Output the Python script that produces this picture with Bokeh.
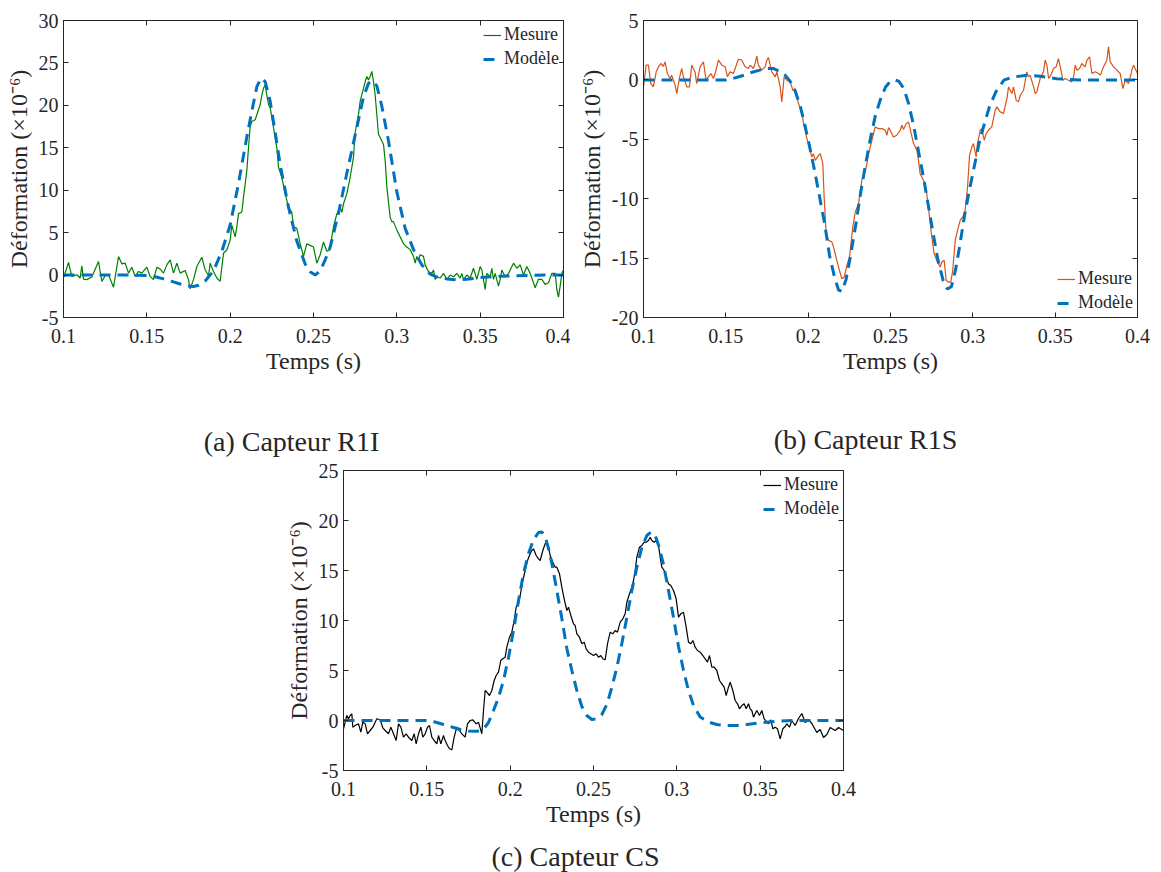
from bokeh.plotting import figure
from bokeh.models import (Range1d, FixedTicker, LinearAxis, Legend, LegendItem,
                          Spacer, NumeralTickFormatter)
from bokeh.core.properties import value
from bokeh.layouts import row, column
from bokeh.embed import file_html
from bokeh.resources import INLINE

# ---------------- data ----------------
x_ticks = [0.1, 0.15, 0.2, 0.25, 0.3, 0.35, 0.4]
y_ticks_a = [-5, 0, 5, 10, 15, 20, 25, 30]
y_ticks_b = [-20, -15, -10, -5, 0, 5]
y_ticks_c = [-5, 0, 5, 10, 15, 20, 25]

captions = ["(a) Capteur R1I", "(b) Capteur R1S", "(c) Capteur CS"]
x_label = "Temps (s)"
y_label = "Déformation (×10⁻⁶)"
series_names = ["Mesure", "Modèle"]

# (a) Capteur R1I
meas_a_t = [0.100, 0.103, 0.105, 0.108, 0.110, 0.111, 0.112, 0.114, 0.117, 0.121, 0.123, 0.125,
            0.127, 0.130, 0.133, 0.135, 0.137, 0.139, 0.141, 0.143, 0.145, 0.147, 0.150, 0.152,
            0.154, 0.156, 0.158, 0.160, 0.162, 0.164, 0.166, 0.168, 0.170, 0.173, 0.175, 0.176,
            0.178, 0.180, 0.183, 0.185, 0.187, 0.188, 0.190, 0.192, 0.194, 0.196, 0.198, 0.200,
            0.201, 0.203, 0.204, 0.205, 0.207, 0.208, 0.209, 0.210, 0.211, 0.212, 0.213, 0.215,
            0.216, 0.218, 0.219, 0.220, 0.221, 0.222, 0.223, 0.224, 0.226, 0.228, 0.229, 0.231,
            0.233, 0.235, 0.237, 0.238, 0.240, 0.242, 0.244, 0.246, 0.248, 0.250, 0.252, 0.254,
            0.256, 0.258, 0.260, 0.261, 0.262, 0.264, 0.266, 0.267, 0.268, 0.270, 0.272, 0.274,
            0.275, 0.276, 0.277, 0.278, 0.280, 0.281, 0.282, 0.283, 0.284, 0.285, 0.286, 0.287,
            0.288, 0.289, 0.290, 0.292, 0.293, 0.294, 0.296, 0.297, 0.298, 0.300, 0.302, 0.304,
            0.306, 0.308, 0.310, 0.311, 0.312, 0.313, 0.314, 0.316, 0.317, 0.319, 0.321, 0.322,
            0.323, 0.324, 0.326, 0.328, 0.330, 0.332, 0.334, 0.336, 0.338, 0.339, 0.340, 0.342,
            0.344, 0.346, 0.348, 0.350, 0.351, 0.353, 0.354, 0.356, 0.357, 0.358, 0.359, 0.361,
            0.362, 0.363, 0.365, 0.367, 0.368, 0.370, 0.372, 0.374, 0.376, 0.378, 0.380, 0.382,
            0.383, 0.385, 0.387, 0.389, 0.391, 0.393, 0.395, 0.396, 0.397, 0.398, 0.399, 0.400]
meas_a_y = [-0.35, 1.48, -0.16, 0.04, -0.35, 1.09, -0.47, -0.54, -0.23, 1.6, -0.74, -0.08,
            0.04, -1.44, 2.18, 1.32, 1.4, 0.23, 0.93, -0.16, 0.43, 0.23, 0.93, -0.16,
            -0.54, 0.93, 0.7, 0.23, 1.2, 1.79, 0.23, 1.4, 0.23, 0.54, -0.54, -1.63,
            -0.54, 1.01, 2.1, 0.62, -0.08, 1.4, 0.43, -0.35, -0.74, 2.57, 2.96, 4.12,
            5.88, 4.51, 5.68, 7.24, 7.43, 9.18, 10.7, 12.3, 15.0, 17.5, 18.1, 18.3,
            18.9, 20.1, 21.2, 22.0, 22.4, 21.2, 20.1, 19.7, 17.4, 15.0, 12.7, 11.5,
            9.6, 8.0, 7.4, 5.7, 5.5, 3.7, 2.2, 3.7, 3.5, 3.3, 1.4, 2.4,
            3.9, 2.8, 3.0, 4.5, 5.7, 7.2, 8.0, 7.4, 8.4, 9.6, 11.5, 13.9,
            16.8, 17.9, 18.9, 20.5, 22.0, 22.8, 23.4, 23.0, 23.4, 24.0, 22.8, 21.2,
            18.9, 16.6, 16.2, 15.4, 13.5, 10.4, 6.8, 6.3, 6.3, 5.3, 4.5, 3.7,
            3.3, 3.0, 2.2, 1.4, 2.2, 1.8, 2.4, 2.2, 1.2, 0.4, 0.2, 0.6,
            -0.5, -0.2, -0.35, 0.2, -0.5, 0.0, -0.2, 0.2, -0.35, 0.2, -0.5, 0.0,
            -0.35, 0.8, -0.5, 1.0, 0.6, -1.7, 0.2, -0.2, 0.8, -0.5, 0.2, -1.3,
            -0.5, 0.6, -0.2, 0.2, 0.6, 1.4, 0.8, 1.2, 0.0, 1.0, 0.2, -0.9,
            -1.5, -0.5, -0.5, -1.1, -0.9, 0.2, 0.2, -1.7, -2.6, -1.3, 0.2, 0.6]
model_a_t = [0.100, 0.120, 0.140, 0.150, 0.155, 0.160, 0.165, 0.170, 0.175, 0.178, 0.181, 0.185,
             0.190, 0.195, 0.200, 0.205, 0.210, 0.213, 0.216, 0.2185, 0.221, 0.224, 0.227, 0.230,
             0.235, 0.240, 0.245, 0.248, 0.251, 0.254, 0.257, 0.260, 0.265, 0.270, 0.275, 0.280,
             0.283, 0.2855, 0.288, 0.291, 0.295, 0.300, 0.305, 0.310, 0.315, 0.320, 0.325, 0.330,
             0.336, 0.342, 0.350, 0.360, 0.370, 0.380, 0.390, 0.400]
model_a_y = [0.0, 0.0, 0.0, -0.05, -0.2, -0.45, -0.75, -1.05, -1.3, -1.35, -1.2, -0.7,
             0.5, 2.8, 5.9, 10.8, 16.3, 19.3, 22.2, 23.2, 22.8, 20.5, 16.8, 13.0,
             8.0, 4.0, 1.3, 0.4, 0.0, 0.5, 1.8, 3.3, 7.3, 12.0, 16.5, 21.0,
             22.6, 22.9, 22.3, 19.9, 15.8, 9.8, 5.5, 3.0, 1.2, 0.1, -0.3, -0.45,
             -0.55, -0.5, -0.3, -0.15, -0.08, -0.03, 0.0, 0.0]

# (b) Capteur R1S
meas_b_t = [0.1000, 0.1016, 0.1030, 0.1044, 0.1060, 0.1077, 0.1091, 0.1105, 0.1121, 0.1131,
            0.1145, 0.1162, 0.1171, 0.1192, 0.1202, 0.1218, 0.1232, 0.1242, 0.1263, 0.1279,
            0.1293, 0.1313, 0.1323, 0.1344, 0.1364, 0.1380, 0.1394, 0.1409, 0.1425, 0.1435,
            0.1455, 0.1476, 0.1496, 0.1510, 0.1526, 0.1546, 0.1567, 0.1577, 0.1597, 0.1617,
            0.1637, 0.1648, 0.1668, 0.1678, 0.1688, 0.1698, 0.1718, 0.1739, 0.1749, 0.1759,
            0.1779, 0.1800, 0.1810, 0.1830, 0.1840, 0.1854, 0.1870, 0.1891, 0.1907, 0.1921,
            0.1941, 0.1962, 0.1972, 0.1982, 0.1992, 0.2002, 0.2012, 0.2022, 0.2032, 0.2043,
            0.2063, 0.2073, 0.2089, 0.2097, 0.2109, 0.2124, 0.2144, 0.2154, 0.2174, 0.2190,
            0.2205, 0.2219, 0.2235, 0.2251, 0.2271, 0.2286, 0.2306, 0.2326, 0.2353, 0.2367,
            0.2387, 0.2407, 0.2427, 0.2448, 0.2468, 0.2478, 0.2488, 0.2498, 0.2518, 0.2538,
            0.2559, 0.2569, 0.2579, 0.2595, 0.2609, 0.2619, 0.2640, 0.2660, 0.2670, 0.2680,
            0.2690, 0.2710, 0.2720, 0.2737, 0.2751, 0.2765, 0.2781, 0.2802, 0.2812, 0.2826,
            0.2838, 0.2852, 0.2866, 0.2878, 0.2893, 0.2907, 0.2923, 0.2939, 0.2953, 0.2968,
            0.2980, 0.2994, 0.3004, 0.3020, 0.3028, 0.3045, 0.3055, 0.3069, 0.3081, 0.3095,
            0.3115, 0.3136, 0.3146, 0.3166, 0.3186, 0.3207, 0.3217, 0.3237, 0.3247, 0.3263,
            0.3277, 0.3288, 0.3308, 0.3328, 0.3338, 0.3348, 0.3369, 0.3379, 0.3389, 0.3409,
            0.3429, 0.3439, 0.3450, 0.3460, 0.3474, 0.3490, 0.3506, 0.3520, 0.3531, 0.3547,
            0.3561, 0.3581, 0.3601, 0.3612, 0.3622, 0.3632, 0.3648, 0.3662, 0.3682, 0.3693,
            0.3709, 0.3723, 0.3743, 0.3763, 0.3774, 0.3794, 0.3814, 0.3824, 0.3834, 0.3855,
            0.3875, 0.3895, 0.3911, 0.3925, 0.3946, 0.3966, 0.3976, 0.4000]
meas_b_y = [-0.59, 1.24, 1.24, -0.31, -0.59, 0.68, 1.10, 1.38, 1.15, 1.52,
            0.54, 0.12, 0.40, -0.45, -1.15, 0.12, 0.96, 0.26, -0.59, -0.59,
            1.24, 0.68, -0.31, 1.10, 1.52, -0.03, 0.26, 0.54, 0.12, 0.54,
            1.66, 1.24, 1.10, 0.26, 0.68, 0.54, 1.38, 1.74, 1.66, 1.10,
            0.96, 1.24, 0.96, 1.38, 2.0, 1.24, 0.82, 1.10, 1.66, 1.88,
            0.68, 0.26, 0.68, -0.59, -1.85, 0.26, -0.03, -0.17, -0.87, -0.73,
            -1.99, -2.69, -3.68, -4.24, -4.94, -5.36, -5.92, -6.49, -6.21, -6.77,
            -6.35, -6.21, -7.05, -9.86, -12.95, -13.51, -13.65, -14.07, -15.19, -16.04,
            -16.74, -16.60, -15.62, -14.91, -12.39, -11.12, -10.42, -8.45, -7.33, -6.21,
            -5.08, -3.96, -4.10, -4.10, -4.24, -4.66, -4.01, -4.24, -4.80, -4.66,
            -4.24, -3.82, -4.18, -3.68, -3.54, -4.10, -5.36, -5.92, -6.77, -7.89,
            -8.17, -8.73, -9.58, -11.54, -13.23, -14.63, -15.19, -15.75, -15.33, -15.19,
            -16.88, -17.02, -17.02, -16.04, -13.51, -12.67, -11.82, -11.54, -10.98, -9.01,
            -6.35, -5.64, -5.36, -6.49, -5.36, -4.24, -4.10, -5.08, -4.52, -4.24,
            -3.96, -2.55, -2.27, -2.69, -2.83, -1.57, -0.59, -1.15, -0.59, -1.71,
            -1.85, -1.29, -0.87, 0.68, 0.26, 0.40, -0.59, -1.15, -1.01, 0.12,
            0.68, 1.66, 1.24, 0.12, 0.40, 0.96, 1.10, 1.80, 1.10, -0.03,
            0.12, -0.03, -0.17, 0.26, 1.24, 0.82, 0.96, 1.38, 1.10, 1.66,
            1.94, 0.54, 0.68, 0.54, 0.40, 1.10, 1.66, 2.78, 1.52, 1.10,
            0.82, 0.54, -0.73, -0.03, -0.31, 0.82, 1.24, 0.54]
model_b_t = [0.100, 0.150, 0.155, 0.160, 0.165, 0.170, 0.175, 0.179, 0.183, 0.186, 0.189, 0.192,
             0.195, 0.198, 0.201, 0.204, 0.207, 0.210, 0.213, 0.216, 0.2185, 0.2205, 0.223, 0.226,
             0.229, 0.232, 0.235, 0.238, 0.241, 0.244, 0.247, 0.250, 0.2525, 0.255, 0.258, 0.261,
             0.264, 0.267, 0.270, 0.273, 0.276, 0.279, 0.282, 0.2845, 0.287, 0.2895, 0.292, 0.295,
             0.298, 0.301, 0.304, 0.307, 0.310, 0.314, 0.319, 0.325, 0.333, 0.341, 0.351, 0.365,
             0.400]
model_b_y = [0.0, 0.0, 0.15, 0.35, 0.6, 0.8, 0.95, 0.95, 0.7, 0.4, -0.1, -0.9,
             -2.1, -3.8, -5.7, -7.7, -9.9, -12.1, -14.8, -16.6, -17.7, -17.8, -16.8, -14.6,
             -12.1, -9.4, -7.0, -4.8, -2.9, -1.6, -0.6, -0.1, 0.0, -0.1, -0.7, -2.0,
             -3.8, -6.0, -8.2, -10.6, -13.0, -15.3, -16.9, -17.6, -17.4, -16.0, -14.0, -11.4,
             -9.2, -7.2, -5.2, -3.7, -2.3, -1.0, 0.0, 0.25, 0.4, 0.3, 0.1, 0.0,
             0.0]

# (c) Capteur CS
meas_c_t = [0.1000, 0.1010, 0.1020, 0.1030, 0.1040, 0.1050, 0.1056, 0.1070, 0.1090, 0.1104,
            0.1116, 0.1130, 0.1144, 0.1160, 0.1176, 0.1200, 0.1220, 0.1236, 0.1250, 0.1270,
            0.1284, 0.1300, 0.1316, 0.1330, 0.1344, 0.1360, 0.1376, 0.1390, 0.1410, 0.1424,
            0.1436, 0.1450, 0.1464, 0.1476, 0.1490, 0.1504, 0.1516, 0.1530, 0.1544, 0.1560,
            0.1570, 0.1584, 0.1600, 0.1610, 0.1624, 0.1636, 0.1650, 0.1664, 0.1680, 0.1696,
            0.1710, 0.1730, 0.1744, 0.1760, 0.1776, 0.1796, 0.1810, 0.1830, 0.1840, 0.1850,
            0.1860, 0.1876, 0.1890, 0.1904, 0.1916, 0.1930, 0.1944, 0.1956, 0.1970, 0.1980,
            0.1996, 0.2010, 0.2024, 0.2036, 0.2050, 0.2060, 0.2076, 0.2090, 0.2104, 0.2120,
            0.2130, 0.2140, 0.2156, 0.2170, 0.2180, 0.2196, 0.2210, 0.2220, 0.2230, 0.2240,
            0.2256, 0.2270, 0.2280, 0.2296, 0.2310, 0.2324, 0.2340, 0.2350, 0.2364, 0.2380,
            0.2390, 0.2400, 0.2416, 0.2430, 0.2444, 0.2456, 0.2470, 0.2484, 0.2500, 0.2516,
            0.2530, 0.2544, 0.2556, 0.2570, 0.2584, 0.2600, 0.2616, 0.2630, 0.2644, 0.2660,
            0.2676, 0.2690, 0.2700, 0.2716, 0.2730, 0.2740, 0.2750, 0.2760, 0.2776, 0.2790,
            0.2804, 0.2816, 0.2830, 0.2840, 0.2850, 0.2864, 0.2876, 0.2890, 0.2900, 0.2910,
            0.2924, 0.2936, 0.2950, 0.2964, 0.2980, 0.2996, 0.3010, 0.3024, 0.3040, 0.3056,
            0.3070, 0.3084, 0.3096, 0.3110, 0.3124, 0.3140, 0.3156, 0.3170, 0.3184, 0.3196,
            0.3210, 0.3224, 0.3240, 0.3256, 0.3270, 0.3284, 0.3296, 0.3310, 0.3320, 0.3336,
            0.3350, 0.3364, 0.3376, 0.3390, 0.3404, 0.3416, 0.3430, 0.3440, 0.3450, 0.3460,
            0.3470, 0.3480, 0.3496, 0.3510, 0.3524, 0.3536, 0.3550, 0.3564, 0.3576, 0.3590,
            0.3604, 0.3620, 0.3636, 0.3650, 0.3660, 0.3676, 0.3690, 0.3710, 0.3730, 0.3750,
            0.3770, 0.3790, 0.3810, 0.3840, 0.3860, 0.3880, 0.3900, 0.3920, 0.3950, 0.3970,
            0.4000]
meas_c_y = [-0.83, -0.17, 0.5, 0.17, 0.5, 0.67, -0.67, -0.5, -0.33, -1.17,
            -0.17, -0.33, -1.33, -1.0, -0.67, 0.17, 0.07, -0.73, -1.0, -1.33,
            -0.67, -1.33, -2.0, -0.33, -0.67, -1.67, -1.33, -1.67, -2.0, -1.33,
            -2.33, -1.33, -0.67, -1.67, -1.33, -0.67, -0.5, -1.67, -2.0, -2.33,
            -1.5, -2.33, -1.5, -2.0, -2.5, -2.83, -2.93, -1.67, -0.67, -1.0,
            -1.33, -1.67, -0.33, 0.0, 0.07, -0.33, -0.17, -1.33, 1.0, 3.0,
            2.83, 2.5, 3.0, 4.0, 4.5, 4.83, 6.0, 6.17, 6.33, 7.33,
            8.33, 8.83, 10.0, 11.33, 11.67, 12.5, 14.0, 15.0, 16.0, 16.67,
            17.0, 17.17, 16.5, 16.17, 16.0, 17.0, 17.67, 17.83, 17.33, 16.5,
            15.83, 15.33, 15.33, 14.67, 13.33, 12.17, 11.0, 11.33, 10.5, 9.67,
            9.5, 8.67, 8.33, 7.67, 7.83, 7.17, 6.83, 6.67, 6.5, 6.67,
            6.33, 6.5, 6.17, 6.07, 7.67, 8.83, 8.67, 9.0, 8.83, 9.83,
            10.17, 10.67, 11.83, 12.67, 13.33, 14.0, 15.0, 16.33, 17.33, 17.5,
            17.83, 17.83, 18.0, 18.33, 18.0, 17.83, 18.0, 17.5, 16.33, 15.33,
            15.0, 14.33, 13.67, 13.5, 13.0, 12.17, 10.33, 10.67, 10.83, 9.33,
            7.83, 7.67, 8.0, 7.33, 7.0, 6.83, 6.5, 6.17, 5.83, 6.5,
            5.33, 5.33, 5.0, 4.0, 3.67, 3.33, 2.5, 3.33, 3.83, 3.0,
            2.0, 1.67, 1.17, 1.5, 1.67, 1.17, 1.67, 1.17, 1.0, 0.33,
            0.67, 1.0, 0.5, 1.0, 0.17, -0.07, -0.33, 0.07, -0.83, -0.67,
            -0.83, -1.83, -0.83, -0.6, -0.33, -0.67, 0.0, -0.5, 0.2, 0.7,
            -0.2, 0.1, -0.3, -1.2, -0.9, -1.7, -1.4, -0.7, -1.0, -0.7,
            -1.0]
model_c_t = [0.100, 0.150, 0.155, 0.160, 0.165, 0.170, 0.175, 0.180, 0.184, 0.187, 0.190, 0.193,
             0.196, 0.199, 0.202, 0.205, 0.208, 0.211, 0.214, 0.217, 0.219, 0.221, 0.223, 0.225,
             0.228, 0.231, 0.234, 0.237, 0.240, 0.243, 0.246, 0.249, 0.2515, 0.255, 0.258, 0.261,
             0.264, 0.267, 0.270, 0.273, 0.276, 0.279, 0.282, 0.2845, 0.287, 0.2895, 0.292, 0.295,
             0.298, 0.301, 0.304, 0.307, 0.310, 0.314, 0.319, 0.324, 0.330, 0.336, 0.342, 0.350,
             0.360, 0.370, 0.400]
model_c_y = [0.0, 0.0, -0.15, -0.4, -0.65, -0.9, -1.05, -1.08, -0.85, -0.2, 1.0, 2.3,
             4.0, 6.3, 9.0, 12.0, 14.7, 16.7, 18.1, 18.8, 18.85, 18.4, 17.2, 15.7,
             13.0, 10.2, 7.2, 5.0, 3.0, 1.4, 0.5, 0.1, 0.15, 0.6, 1.6, 3.3,
             5.3, 7.7, 10.3, 13.0, 15.3, 17.3, 18.5, 18.85, 18.5, 17.3, 15.6, 13.0,
             10.3, 7.4, 5.0, 3.0, 1.5, 0.35, -0.15, -0.4, -0.5, -0.5, -0.4, -0.23,
             -0.07, 0.0, 0.0]

# ---------------- style ----------------
FONT = "Liberation Serif"
TXT = "#262626"
MODEL_COLOR = "#0072BD"


def style_axis(ax, ticks, fmt, show_labels=True):
    ax.ticker = FixedTicker(ticks=ticks)
    ax.formatter = NumeralTickFormatter(format=fmt)
    ax.major_tick_in = 5
    ax.major_tick_out = 0
    ax.minor_tick_line_color = None
    ax.axis_line_color = TXT
    ax.major_tick_line_color = TXT
    ax.major_label_text_font = FONT
    ax.axis_label_text_font = FONT
    ax.axis_label_text_font_style = "normal"
    ax.axis_label_text_color = TXT
    if show_labels:
        ax.major_label_text_font_size = "20px"
        ax.major_label_text_color = TXT
    else:
        ax.major_label_text_font_size = "0px"
        ax.major_label_text_color = None


def panel(width, height, bl, br, bt, bb, yr, yticks, mt, my, mcol, modt, mody, legend_loc):
    p = figure(width=width, height=height, x_range=Range1d(0.1, 0.4), y_range=Range1d(*yr),
               output_backend="svg", toolbar_location=None,
               min_border_left=bl, min_border_right=br, min_border_top=bt, min_border_bottom=bb)
    p.grid.visible = False
    p.outline_line_color = TXT
    p.background_fill_color = "white"
    p.border_fill_color = "white"

    xa = p.xaxis[0]
    style_axis(xa, x_ticks, "0.[00]")
    xa.axis_label = x_label
    xa.axis_label_text_font_size = "24px"
    xa.major_label_standoff = 11
    xa.axis_label_standoff = 2

    ya = p.yaxis[0]
    style_axis(ya, yticks, "0")
    ya.axis_label = y_label
    ya.axis_label_text_font_size = "24px"
    ya.major_label_standoff = 5
    ya.axis_label_standoff = 4

    top = LinearAxis()
    style_axis(top, x_ticks, "0.[00]", show_labels=False)
    p.add_layout(top, "above")
    right = LinearAxis()
    style_axis(right, yticks, "0", show_labels=False)
    p.add_layout(right, "right")

    r1 = p.line(mt, my, line_color=mcol, line_width=1.2)
    r2 = p.line(modt, mody, line_color=MODEL_COLOR, line_width=3, line_dash="11 7")

    leg = Legend(items=[LegendItem(label=series_names[0], renderers=[r1]),
                        LegendItem(label=series_names[1], renderers=[r2])],
                 location=legend_loc)
    leg.label_text_font = FONT
    leg.label_text_font_size = "18px"
    leg.label_text_color = TXT
    leg.border_line_color = None
    leg.background_fill_color = "white"
    leg.background_fill_alpha = 1.0
    leg.padding = 4
    leg.margin = 4
    leg.spacing = 3
    leg.glyph_width = 18
    leg.glyph_height = 20
    leg.label_height = 20
    leg.label_standoff = 3
    p.add_layout(leg)
    return p


def caption_fig(text, width, ypos=0.5):
    c = figure(width=width, height=40, x_range=Range1d(0, 1), y_range=Range1d(0, 1),
               output_backend="svg", toolbar_location=None,
               min_border_left=0, min_border_right=0, min_border_top=0, min_border_bottom=0)
    c.axis.visible = False
    c.grid.visible = False
    c.outline_line_color = None
    c.background_fill_color = "white"
    c.border_fill_color = "white"
    c.text(x=[0.5], y=[ypos], text=[text], text_font=value(FONT), text_font_size="28px",
           text_color=TXT, text_align="center", text_baseline="middle")
    return c


pa = panel(570, 420, 63, 7, 18, 102, (-5, 30), y_ticks_a, meas_a_t, meas_a_y, "#008000",
           model_a_t, model_a_y, "top_right")
pb = panel(591, 420, 73, 24, 20, 103, (-20, 5), y_ticks_b, meas_b_t, meas_b_y, "#D95319",
           model_b_t, model_b_y, "bottom_right")
pc = panel(590, 372, 73, 17, 10, 62, (-5, 25), y_ticks_c, meas_c_t, meas_c_y, "#000000",
           model_c_t, model_c_y, "top_right")

layout = column(
    row(pa, pb),
    row(caption_fig(captions[0], 582, 0.48), caption_fig(captions[1], 566, 0.53)),
    row(Spacer(width=270, height=372), pc),
    caption_fig(captions[2], 1150, 0.4),
)

open("out.html", "w").write(file_html(layout, INLINE))
